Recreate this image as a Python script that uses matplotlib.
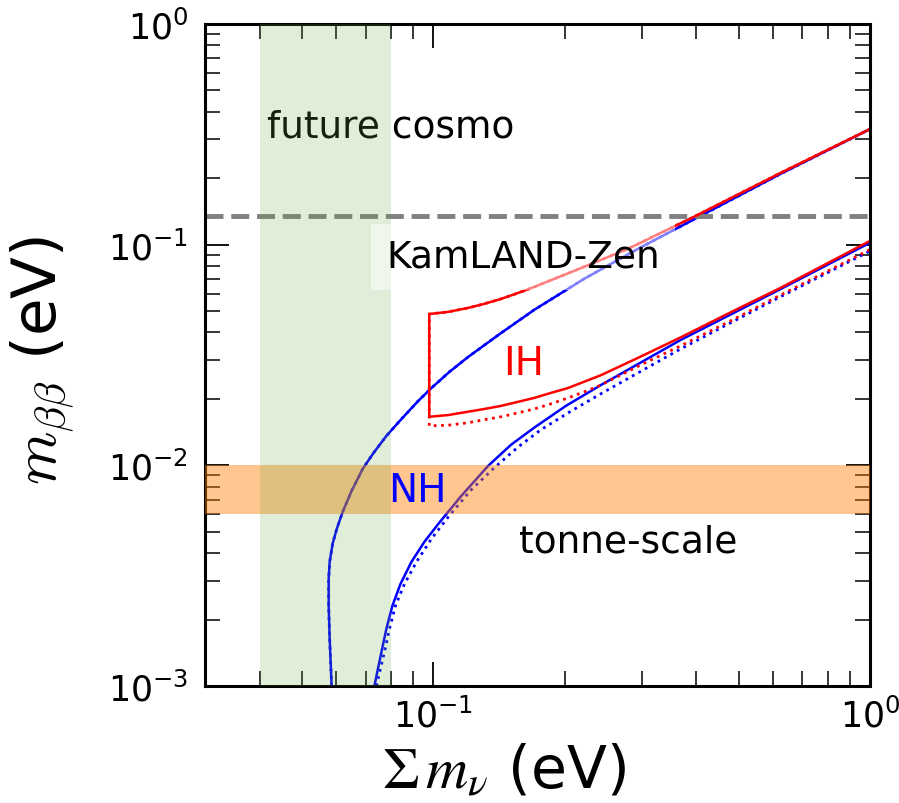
import matplotlib.pyplot as plt
from matplotlib.ticker import NullFormatter

# 1. Datos
cosmo_band = [0.04, 0.08]
tonne_band = [0.006, 0.01]
kamland_limit = 0.135

# NH, borde superior (solido y punteado casi coinciden)
nh_up_sum = [0.0585, 0.0579, 0.0576, 0.0576, 0.0579, 0.0588, 0.0601, 0.0620, 0.0650, 0.0689,
             0.0730, 0.0781, 0.0845, 0.0924, 0.0990, 0.1088, 0.1202, 0.1430, 0.1701, 0.2212,
             0.2938, 0.4092, 0.6229, 1.0]
nh_up_mbb = [0.001, 0.00164, 0.00231, 0.00306, 0.00365, 0.00441, 0.00515, 0.00615, 0.00766, 0.00963,
             0.0114, 0.0136, 0.0162, 0.0196, 0.0224, 0.0265, 0.0310, 0.0398, 0.0506, 0.0699,
             0.0956, 0.135, 0.209, 0.334]

# NH, borde inferior
nh_lo_sum = [0.0733, 0.0745, 0.0761, 0.0781, 0.0806, 0.0841, 0.0891, 0.0954, 0.1027, 0.1159,
             0.1335, 0.1507, 0.1701, 0.2012, 0.2419, 0.3685, 0.6229, 1.0]
nh_lo_mbb = [0.001, 0.00117, 0.00143, 0.00182, 0.00231, 0.00290, 0.00365, 0.00450, 0.00543, 0.00727,
             0.00994, 0.0124, 0.0148, 0.0186, 0.0231, 0.0370, 0.0628, 0.102]
nh_lo_dot_sum = [0.0741, 0.0757, 0.0773, 0.0794, 0.0819, 0.0859, 0.0915, 0.0990, 0.1082, 0.1221,
                 0.1378, 0.1563, 0.1764, 0.2066, 0.2419, 0.3685, 0.6229, 1.0]
nh_lo_dot_mbb = [0.001, 0.00120, 0.00143, 0.00182, 0.00231, 0.00290, 0.00365, 0.00464, 0.00584, 0.00774,
                 0.00973, 0.0121, 0.0145, 0.0176, 0.0211, 0.0337, 0.0580, 0.0936]

# IH, bordes superior e inferior
ih_up_sum = [0.0979, 0.1082, 0.1202, 0.1307, 0.1430, 0.1563, 0.1701, 0.1889, 0.2099, 0.2419,
             0.2787, 0.3316, 0.3945, 0.6229, 1.0]
ih_up_mbb = [0.0485, 0.0496, 0.0517, 0.0539, 0.0568, 0.0604, 0.0643, 0.0699, 0.0760, 0.0853,
             0.0956, 0.113, 0.1335, 0.211, 0.334]
ih_lo_sum = [0.0979, 0.1082, 0.1202, 0.1307, 0.1430, 0.1563, 0.1701, 0.1860, 0.2034, 0.2212,
             0.2419, 0.2984, 0.3685, 0.4790, 0.6229, 1.0]
ih_lo_mbb = [0.0166, 0.0169, 0.0175, 0.0180, 0.0186, 0.0194, 0.0202, 0.0213, 0.0224, 0.0239,
             0.0256, 0.0311, 0.0380, 0.0493, 0.0636, 0.104]
ih_lo_dot_sum = [0.0979, 0.1082, 0.1202, 0.1307, 0.1430, 0.1563, 0.1701, 0.1860, 0.2034, 0.2212,
                 0.2419, 0.2984, 0.3685, 0.4790, 0.6229, 1.0]
ih_lo_dot_mbb = [0.0151, 0.0152, 0.0156, 0.0161, 0.0166, 0.0173, 0.0180, 0.0190, 0.0202, 0.0215,
                 0.0231, 0.0285, 0.0348, 0.0451, 0.0590, 0.0950]

# contorno cerrado de IH: borde superior al reves + borde inferior
ih_sum = ih_up_sum[::-1] + ih_lo_sum
ih_mbb = ih_up_mbb[::-1] + ih_lo_mbb
ih_dot_sum = ih_up_sum[::-1] + ih_lo_dot_sum
ih_dot_mbb = ih_up_mbb[::-1] + ih_lo_dot_mbb

# 2. Figura
fig = plt.figure(figsize=(8.99, 8.04), dpi=100)
ax = fig.add_axes([0.228, 0.1455, 0.7397, 0.8234])
ax.set_xscale('log')
ax.set_yscale('log')
ax.set_xlim(0.03, 1.0)
ax.set_ylim(0.001, 1.0)

lw = 1.8
ax.plot(nh_up_sum, nh_up_mbb, color='blue', lw=lw, zorder=2)
ax.plot(nh_up_sum, nh_up_mbb, color='blue', lw=2, ls=':', zorder=2)
ax.plot(nh_lo_sum, nh_lo_mbb, color='blue', lw=lw, zorder=2)
ax.plot(nh_lo_dot_sum, nh_lo_dot_mbb, color='blue', lw=2, ls=':', zorder=2)
ax.plot(ih_sum, ih_mbb, color='red', lw=lw, zorder=2.1)
ax.plot(ih_dot_sum, ih_dot_mbb, color='red', lw=2, ls=':', zorder=2.1)

ax.axhline(kamland_limit, color='gray', lw=3.5, ls='--', zorder=2)

# bandas por encima de todo (tapan ticks y texto)
ax.axhspan(tonne_band[0], tonne_band[1], color=(1.0, 0.5, 0.0), alpha=0.44, lw=0, zorder=3)
ax.axvspan(cosmo_band[0], cosmo_band[1], color=(0.4, 0.65, 0.25), alpha=0.2, lw=0, zorder=3.1)

# 3. Textos
fs = 27
ax.text(0.0416, 0.3076, 'future cosmo', fontsize=fs, ha='left', va='baseline', zorder=1)
ax.text(0.0781, 0.0793, 'KamLAND-Zen', fontsize=fs, ha='left', va='baseline', zorder=4,
        bbox=dict(boxstyle='square,pad=0.4', fc='white', ec='none', alpha=0.5))
ax.text(0.1445, 0.0260, 'IH', fontsize=fs + 1, color='red', ha='left', va='baseline', zorder=5)
ax.text(0.0789, 0.0069, 'NH', fontsize=fs + 1, color='blue', ha='left', va='baseline', zorder=5)
ax.text(0.157, 0.00405, 'tonne-scale', fontsize=fs, ha='left', va='baseline', zorder=5)

# 4. Ejes
for s in ax.spines.values():
    s.set_linewidth(2.2)
    s.set_zorder(2.5)
ax.tick_params(which='both', direction='in', top=True, right=True, labelsize=25)
ax.tick_params(which='major', length=17, width=1.3)
ax.tick_params(which='minor', length=11, width=1.1)
ax.tick_params(axis='x', pad=8)
ax.tick_params(axis='y', pad=12)
ax.xaxis.set_minor_formatter(NullFormatter())
ax.yaxis.set_minor_formatter(NullFormatter())

ax.set_xlabel(r'$\Sigma\, m_{\nu}$ (eV)', fontsize=42, math_fontfamily='stix')
ax.set_ylabel(r'$m_{\beta\beta}$ (eV)', fontsize=44, math_fontfamily='cm')
ax.xaxis.set_label_coords(0.45, -0.128)
ax.xaxis.label.set_va('center')
ax.yaxis.set_label_coords(-0.245, 0.494)
ax.yaxis.label.set_va('center')

plt.savefig('out.png', dpi=100)
